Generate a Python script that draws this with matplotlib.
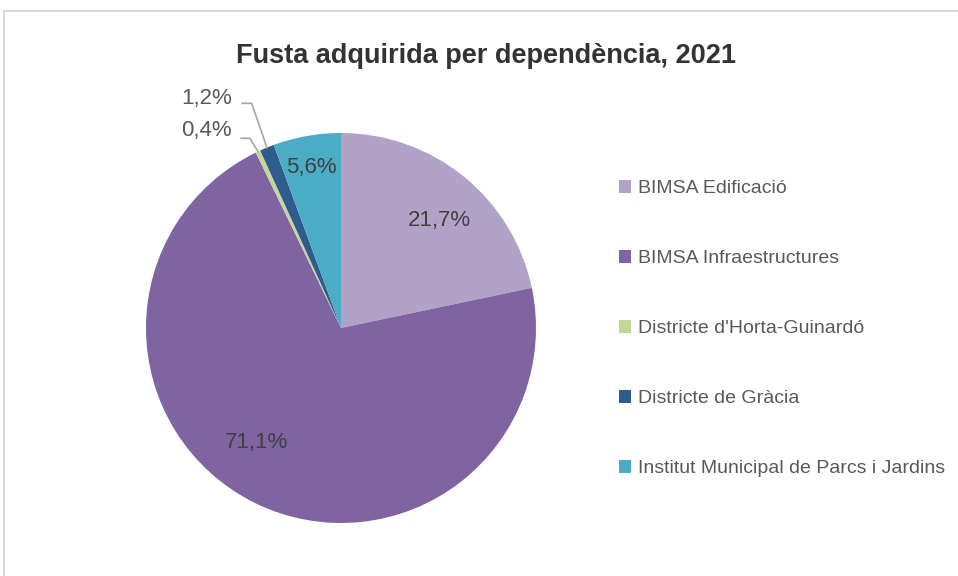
import matplotlib.pyplot as plt
import numpy as np
from matplotlib.patches import Rectangle

plt.rcParams['font.family'] = ['Liberation Sans Narrow', 'Liberation Sans', 'DejaVu Sans']

TITLE = "Fusta adquirida per dependència, 2021"
categories = ["BIMSA Edificació", "BIMSA Infraestructures", "Districte d'Horta-Guinardó",
              "Districte de Gràcia", "Institut Municipal de Parcs i Jardins"]
shares = [21.7, 71.1, 0.4, 1.2, 5.6]
colors = ["#b3a2c7", "#8064a2", "#c4d79b", "#2e5c8c", "#4bacc6"]

INK = "#333333"
INK_2 = "#595959"
LABEL_INK = "#404040"

fig = plt.figure(figsize=(9.58, 5.76), dpi=100)
fig.patch.set_facecolor("white")
# light chart-area frame
fig.patches.append(Rectangle((4 / 958, -0.02), 1.0, 1 - 11 / 576 + 0.02, transform=fig.transFigure,
                             fill=False, edgecolor="#d9d9d9", linewidth=1.5))

ax = fig.add_axes([146 / 958, 53 / 576, 390 / 958, 390 / 576])
wedges, _ = ax.pie(shares, colors=colors, startangle=90, counterclock=False,
                   wedgeprops=dict(linewidth=0))
ax.set_xlim(-1, 1)
ax.set_ylim(-1, 1)
ax.set_aspect("equal")

fmt = lambda v: f"{v:.1f}%".replace(".", ",")

# in-slice labels: (angle nudge in degrees, radius)
inside = {0: (-3.4, 0.75), 1: (-10.4, 0.73), 4: (0.3, 0.837)}
for i, (dth, r) in inside.items():
    w = wedges[i]
    th = np.deg2rad((w.theta1 + w.theta2) / 2 + dth)
    ax.text(r * np.cos(th), r * np.sin(th), fmt(shares[i]), ha="center", va="center",
            fontsize=16, color=LABEL_INK)

# small slices with leader lines: (label x, label y, elbow x, line y)
outside = {3: (-0.687, 1.179, -0.458, 1.152), 2: (-0.692, 1.013, -0.467, 0.973)}
for i, (lx, ly, ex, liney) in outside.items():
    w = wedges[i]
    th = np.deg2rad((w.theta1 + w.theta2) / 2)
    ax.text(lx, ly, fmt(shares[i]), ha="center", va="center", fontsize=16, color=INK_2,
            clip_on=False)
    ax.plot([lx + 0.18, ex, np.cos(th)], [liney, liney, np.sin(th)], color="#a6a6a6",
            linewidth=1.2, clip_on=False)

fig.text(486 / 958, 1 - 63 / 576, TITLE, ha="center", va="baseline", fontsize=19.5,
         fontweight="bold", color=INK)

fig.legend(wedges, categories, loc="upper left", bbox_to_anchor=(611 / 958, 1 - 172 / 576),
           frameon=False, fontsize=14, labelcolor=INK_2, handlelength=0.65, handleheight=0.65,
           handletextpad=0.33, labelspacing=2.71, borderaxespad=0)

fig.savefig("out.png", dpi=100, facecolor="white")
